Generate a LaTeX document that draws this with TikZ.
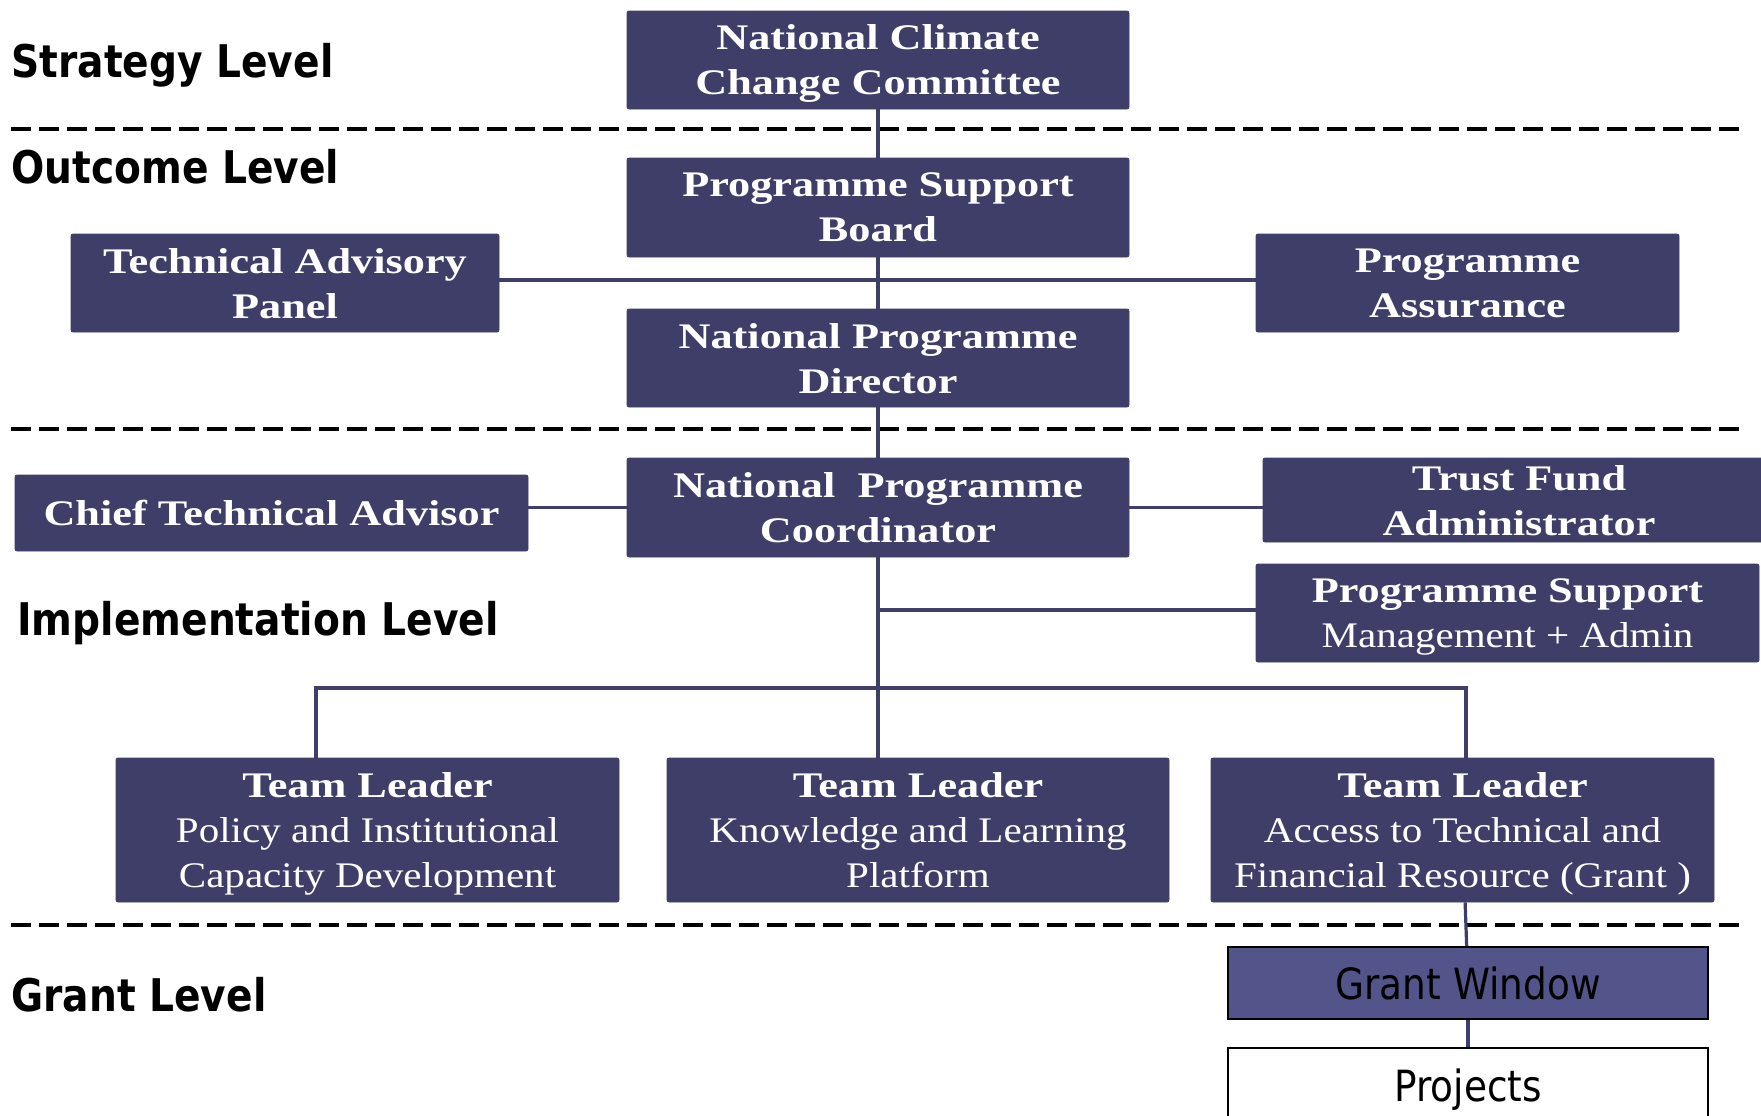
\documentclass[tikz,border=0pt]{standalone}
\usepackage{fontspec}
\setmainfont{Liberation Serif}[FakeStretch=1.23]
\newfontfamily\plainfont[FakeStretch=1.14]{Liberation Serif}
\newfontfamily\levelfont[FakeStretch=0.87]{DejaVu Sans}
\usetikzlibrary{positioning}

\definecolor{unitblue}{HTML}{3E3E69}
\definecolor{windowblue}{HTML}{53548A}

\newcommand{\plainline}{\plainfont\mdseries}

\tikzset{
    unit/.style={draw=unitblue, fill=unitblue, text=white, align=center,
        rounded corners=1pt, inner sep=0pt, text depth=0pt,
        font=\fontsize{18}{22.5}\selectfont\bfseries},
    grantbox/.style={draw=black, line width=1pt, text=black, inner sep=0pt,
        minimum width=240pt, font=\levelfont\fontsize{21.5}{25}\selectfont},
    link/.style={draw=unitblue, line width=1.6pt},
    levelrule/.style={draw=black, line width=2.2pt, dash pattern=on 10pt off 4pt},
    levellabel/.style={anchor=base west, inner sep=0pt,
        font=\levelfont\bfseries\fontsize{22.5}{27}\selectfont}
}

\begin{document}
\begin{tikzpicture}[x=0.5pt, y=-0.5pt]
    \clip (0,0) rectangle (1761,1115);
    % strategy and outcome level
        \node[unit, minimum width=251pt, minimum height=49pt] (nccc) at (878,60)
            {National Climate\\Change Committee};
        \node[unit, minimum width=251pt, minimum height=49.5pt] (psb) at (878,207.5)
            {Programme Support\\Board};
        \node[unit, minimum width=214pt, minimum height=49pt] (tap) at (285,283)
            {Technical Advisory\\Panel};
        \node[unit, minimum width=211.5pt, minimum height=49pt] (pa) at (1467.5,283)
            {Programme\\Assurance};
        \node[unit, minimum width=251pt, minimum height=49pt] (npd) at (878,358)
            {National Programme\\Director};
    % implementation level
        \node[unit, minimum width=251pt, minimum height=49.5pt] (npc) at (878,507.5)
            {National\ \ Programme\\Coordinator};
        \node[unit, minimum width=256.5pt, minimum height=38pt] (cta) at (271.5,513)
            {Chief Technical Advisor};
        \node[unit, minimum width=256pt, minimum height=42pt] (tfa) at (1519,500)
            {Trust Fund\\Administrator};
        \node[unit, minimum width=251.5pt, minimum height=49pt] (psma) at (1507.5,613)
            {Programme Support\\\plainline Management + Admin};
        \node[unit, minimum width=251.5pt, minimum height=72pt] (tl1) at (367.5,830)
            {Team Leader\\\plainline Policy and Institutional\\\plainline Capacity Development};
        \node[unit, minimum width=251pt, minimum height=72pt] (tl2) at (918,830)
            {Team Leader\\\plainline Knowledge and Learning\\\plainline Platform};
        \node[unit, minimum width=251.5pt, minimum height=72pt] (tl3) at (1462.5,830)
            {Team Leader\\\plainline Access to Technical and\\\plainline Financial Resource (Grant )};
    % grant level
        \node[grantbox, fill=windowblue, minimum height=36pt] (gw) at (1468,983) {Grant Window};
        \node[grantbox, fill=white, minimum height=50pt, text depth=13pt] (proj) at (1468,1098) {Projects};

    % level labels and rules
        \node[levellabel] (strategy) at (11,77) {Strategy Level};
        \node[levellabel] (outcome) at (11,183) {Outcome Level};
        \node[levellabel] (implementation) at (17,635) {Implementation Level};
        \node[levellabel] (grant) at (11,1011) {Grant Level};
        \draw[levelrule] (11,129) -- (1739,129);
        \draw[levelrule] (11,429) -- (1739,429);
        \draw[levelrule] (11,925) -- (1739,925);

    % connectors
        \draw[link] (nccc) -- (psb);
        \draw[link] (psb) -- (npd);
        \draw[link] ([yshift=1.5pt]tap.east) -- ([yshift=1.5pt]pa.west);
        \draw[link] (npd) -- (npc);
        \draw[link] (npc.west) -- (npc.west -| cta.east);
        \draw[link] (npc.east) -- (npc.east -| tfa.west);
        \draw[link] (npc.south) -- (npc.south |- tl2.north);
        \draw[link] (npc.south |- psma.west) ++(0,-3) -- ([yshift=1.5pt]psma.west);
        \coordinate (busL) at (316,688);
        \coordinate (busR) at (1466,688);
        \draw[link] (busL |- tl1.north) -- (busL) -- (busR) -- (busR |- tl3.north);
        \draw[link] (tl3) -- (gw);
        \draw[link] (gw) -- (proj);
\end{tikzpicture}
\end{document}
